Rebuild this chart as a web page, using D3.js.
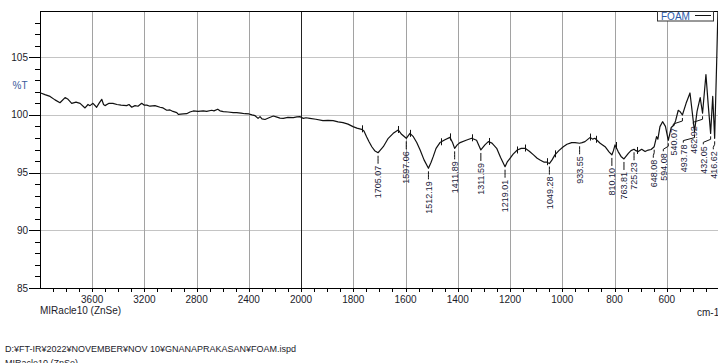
<!DOCTYPE html>
<html>
<head>
<meta charset="utf-8">
<script src="https://cdn.jsdelivr.net/npm/d3@7"></script>
<style>
  html, body { margin: 0; padding: 0; background: #fff; }
  svg { display: block; font-family: "Liberation Sans", Arial, sans-serif; }
</style>
</head>
<body>
<script>
// ---------- DATA ----------
const wavenumbers = [
  4000, 3962, 3923, 3885, 3847, 3808, 3785, 3757, 3724, 3693, 3655, 3632, 3617, 3594, 3566, 3548,
  3527, 3513, 3502, 3471, 3441, 3410, 3379, 3336, 3318, 3297, 3272, 3249, 3221, 3203, 3182, 3157,
  3119, 3080, 3057, 3029, 3004, 2981, 2952, 2940, 2902, 2876, 2851, 2825, 2789, 2749, 2723, 2684,
  2667, 2638, 2621, 2595, 2559, 2519, 2493, 2460, 2429, 2398, 2375, 2352, 2329, 2314, 2299, 2276,
  2245, 2212, 2184, 2161, 2136, 2100, 2059, 2031, 2008,
  2000, 1991, 1981, 1966, 1943, 1916, 1897, 1877, 1858, 1839, 1820, 1801, 1786, 1768, 1759, 1749,
  1740, 1729, 1718, 1705.07, 1698, 1685, 1666, 1647, 1628, 1615, 1597.06, 1583, 1570, 1557, 1544,
  1529, 1512.19, 1502, 1494, 1483, 1468, 1449, 1430, 1420, 1411.89, 1402, 1391, 1368, 1347, 1328,
  1311.59, 1296, 1283, 1269, 1251, 1236, 1219.01, 1211, 1200, 1188, 1172, 1157, 1142, 1126, 1110,
  1096, 1085, 1069, 1059, 1049.28, 1039, 1028, 1013, 996, 982, 964, 951, 933.55, 924, 913, 893,
  884, 875, 855, 836, 821, 810.10, 804, 798, 786, 775, 763.81, 747, 737, 725.23, 718, 709, 696,
  683, 671, 660, 648.08, 639, 634, 626, 616, 605, 594.08, 583, 572, 566, 556, 549, 540.07, 526,
  511, 493.78, 484, 472, 462.92, 450, 441, 432.05, 424, 416.62, 409, 402
];
const transmittance = [
  101.92, 101.75, 101.6, 101.3, 101.05, 101.5, 101.35, 101.0, 101.1, 101.0, 100.6, 100.9, 100.8, 101.0, 100.66, 101.0,
  101.35, 100.9, 100.8, 101.0, 101.0, 100.9, 100.85, 100.8, 100.9, 100.66, 100.8, 100.75, 101.0, 100.85, 100.85, 100.75,
  100.8, 100.66, 100.6, 100.4, 100.43, 100.3, 100.2, 100.05, 100.08, 100.1, 100.25, 100.34, 100.3, 100.34, 100.3, 100.4,
  100.35, 100.49, 100.35, 100.28, 100.25, 100.2, 100.2, 100.15, 100.1, 100.08, 100.0, 99.93, 99.7, 99.85, 99.65, 99.6,
  99.75, 99.9, 99.8, 99.72, 99.7, 99.78, 99.76, 99.82, 99.85,
  99.8, 99.7, 99.75, 99.7, 99.62, 99.5, 99.52, 99.5, 99.4, 99.33, 99.2, 98.98, 98.85, 98.75, 98.6, 98.11,
  97.7, 97.24, 96.9, 96.72, 96.9, 97.24, 97.97, 98.4, 98.69, 98.32, 97.97, 98.4, 98.11, 97.6, 96.96,
  96.1, 95.37, 95.9, 96.38, 97.1, 97.6, 97.85, 98.05, 97.6, 97.1, 97.4, 97.6, 97.8, 97.97, 97.8,
  96.96, 97.4, 97.68, 97.55, 97.1, 96.3, 95.51, 95.9, 96.24, 96.6, 96.96, 97.1, 97.1, 96.85, 96.53,
  96.24, 96.09, 95.9, 95.9, 95.78, 96.1, 96.53, 96.9, 97.24, 97.45, 97.6, 97.6, 97.54, 97.6, 97.68, 98.05,
  97.9, 97.97, 97.54, 97.24, 96.8, 96.53, 96.9, 97.4, 96.82, 96.4, 96.18, 96.67, 96.9, 97.02, 96.9, 96.82, 97.02,
  96.82, 96.95, 97.0, 97.24, 98.11, 97.9, 98.98, 99.41, 99.0, 97.8, 98.9, 99.12, 99.5, 100.4, 100.28, 99.99, 101.0,
  101.9, 98.55, 100.3, 101.5, 100.14, 103.5, 100.8, 98.4, 101.6, 97.97, 104.5, 111
];
const peakWavenumbers = [1705.07, 1597.06, 1512.19, 1411.89, 1311.59, 1219.01, 1049.28, 933.55,
  810.10, 763.81, 725.23, 648.08, 594.08, 540.07, 493.78, 462.92, 432.05, 416.62];
const regionMarks = [1768, 1628, 1581, 1466, 1430, 1347, 1280, 1174, 1141, 1059, 1026, 892, 869, 796, 715];
const xMajorTicks = [3600, 3200, 2800, 2400, 2000, 1800, 1600, 1400, 1200, 1000, 800, 600];
const yMajorTicks = [85, 90, 95, 100, 105];
const seriesName = "FOAM";
const yLabel = "%T";
const xUnit = "cm-1";
const accessory = "MIRacle10 (ZnSe)";
const filePath = "D:¥FT-IR¥2022¥NOVEMBER¥NOV 10¥GNANAPRAKASAN¥FOAM.ispd";

// ---------- LAYOUT ----------
const W = 718, H = 363;
const pL = 40, pR = 719, pT = 11, pB = 288;
const x = d3.scaleLinear().domain([4000, 2000, 400]).range([pL, 301, pR]);
const y = d3.scaleLinear().domain([85, 109]).range([pB, pT]);
const tickColor = "#1b1b2a";

const svg = d3.select("body").append("svg").attr("width", W).attr("height", H);
svg.append("rect").attr("width", W).attr("height", H).attr("fill", "#fff");

// gridlines
svg.append("g").selectAll("line").data(yMajorTicks.filter(d => d > 85)).join("line")
  .attr("x1", pL).attr("x2", W).attr("y1", d => Math.round(y(d)) + 0.5).attr("y2", d => Math.round(y(d)) + 0.5)
  .attr("stroke", "#c4c4c4").attr("stroke-width", 1);
svg.append("g").selectAll("line").data(xMajorTicks).join("line")
  .attr("x1", d => Math.round(x(d)) + 0.5).attr("x2", d => Math.round(x(d)) + 0.5)
  .attr("y1", pT).attr("y2", pB)
  .attr("stroke", d => d === 2000 ? "#222" : "#a2a2a2").attr("stroke-width", 1);

// axes frame
svg.append("line").attr("x1", pL + 0.5).attr("x2", pL + 0.5).attr("y1", pT).attr("y2", pB + 0.5)
  .attr("stroke", "#000");
svg.append("line").attr("x1", pL).attr("x2", W).attr("y1", pB + 0.5).attr("y2", pB + 0.5)
  .attr("stroke", "#000");
svg.append("line").attr("x1", pL).attr("x2", W).attr("y1", pT + 0.5).attr("y2", pT + 0.5)
  .attr("stroke", "#000");

// y ticks
const yMinor = d3.range(86, 109).filter(d => d % 5 !== 0);
svg.append("g").selectAll("line").data(yMinor).join("line")
  .attr("x1", pL - 5).attr("x2", pL).attr("y1", d => Math.round(y(d)) + 0.5).attr("y2", d => Math.round(y(d)) + 0.5)
  .attr("stroke", "#000");
svg.append("g").selectAll("line").data(yMajorTicks).join("line")
  .attr("x1", pL - 11).attr("x2", pL).attr("y1", d => Math.round(y(d)) + 0.5).attr("y2", d => Math.round(y(d)) + 0.5)
  .attr("stroke", "#000");
svg.append("g").selectAll("text").data(yMajorTicks).join("text")
  .attr("x", pL - 12).attr("y", d => y(d) + 3.5).attr("text-anchor", "end")
  .attr("font-size", 10).attr("fill", tickColor).text(d => d);
svg.append("text").attr("x", 20).attr("y", 89).attr("text-anchor", "middle")
  .attr("font-size", 10).attr("fill", "#3a5a9a").text(yLabel);

// x ticks
const xMinor = d3.range(3900, 2000, -100).filter(d => d % 400 !== 0)
  .concat(d3.range(1950, 400, -50).filter(d => d % 200 !== 0));
svg.append("g").selectAll("line").data(xMinor).join("line")
  .attr("x1", d => Math.round(x(d)) + 0.5).attr("x2", d => Math.round(x(d)) + 0.5)
  .attr("y1", pB).attr("y2", pB + 4).attr("stroke", "#000");
svg.append("g").selectAll("line").data(xMajorTicks).join("line")
  .attr("x1", d => Math.round(x(d)) + 0.5).attr("x2", d => Math.round(x(d)) + 0.5)
  .attr("y1", pB).attr("y2", pB + 4).attr("stroke", "#000");
svg.append("g").selectAll("text").data(xMajorTicks).join("text")
  .attr("x", d => x(d)).attr("y", 303).attr("text-anchor", "middle")
  .attr("font-size", 10).attr("fill", tickColor).text(d => d);
svg.append("text").attr("x", 697).attr("y", 316).attr("font-size", 10).attr("fill", tickColor).text(xUnit);
svg.append("text").attr("x", 40).attr("y", 314).attr("font-size", 10).attr("fill", tickColor).text(accessory);

// footer
svg.append("text").attr("x", 5).attr("y", 352).attr("font-size", 9).attr("fill", tickColor).text(filePath);
svg.append("text").attr("x", 5).attr("y", 366).attr("font-size", 9).attr("fill", tickColor).text(accessory);

// spectrum
const pts = wavenumbers.map((w, i) => [w, transmittance[i]]);
svg.append("clipPath").attr("id", "clip").append("rect")
  .attr("x", pL).attr("y", pT).attr("width", W - pL).attr("height", pB - pT);
svg.append("path").datum(pts).attr("clip-path", "url(#clip)")
  .attr("d", d3.line().x(d => x(d[0])).y(d => y(d[1])))
  .attr("fill", "none").attr("stroke", "#111").attr("stroke-width", 1.2).attr("stroke-linejoin", "round");

function tAt(w) {
  for (let i = 0; i < wavenumbers.length - 1; i++) {
    const a = wavenumbers[i], b = wavenumbers[i + 1];
    if (w <= a && w >= b) {
      const f = (a - w) / (a - b);
      return transmittance[i] + f * (transmittance[i + 1] - transmittance[i]);
    }
  }
  return transmittance[transmittance.length - 1];
}

// region marks
svg.append("g").selectAll("line").data(regionMarks).join("line")
  .attr("x1", d => Math.round(x(d)) + 0.5).attr("x2", d => Math.round(x(d)) + 0.5)
  .attr("y1", d => y(tAt(d)) - 4).attr("y2", d => y(tAt(d)) + 3)
  .attr("stroke", "#111").attr("stroke-width", 1);

// peak labels with simple collision avoidance (right to left)
const peaks = peakWavenumbers.map(w => ({ w, px: x(w), py: y(tAt(w)) }));
let prev = 713.3 + 10;
[...peaks].sort((a, b) => b.px - a.px).forEach(p => {
  p.lx = Math.min(p.px, prev - 10);
  prev = p.lx;
  p.ty = p.py + 13;
});
const pg = svg.append("g");
peaks.forEach(p => {
  pg.append("path")
    .attr("d", `M${p.px},${p.py + 3}L${p.px},${p.py + 6}L${p.lx},${p.ty - 4}L${p.lx},${p.ty - 2}`)
    .attr("fill", "none").attr("stroke", "#111").attr("stroke-width", 1);
  pg.append("text")
    .attr("transform", `translate(${p.lx + 3.2},${p.ty}) rotate(-90)`)
    .attr("text-anchor", "end").attr("font-size", 9).attr("fill", "#1b1b3a")
    .text(p.w.toFixed(2));
});

// legend
const lg = svg.append("g");
lg.append("rect").attr("x", 657.5).attr("y", 11.5).attr("width", 56).attr("height", 9.5)
  .attr("fill", "#fff").attr("stroke", "#333");
lg.append("text").attr("x", 661).attr("y", 20).attr("font-size", 10).attr("fill", "#2a5aa8").text(seriesName);
lg.append("line").attr("x1", 695).attr("x2", 711).attr("y1", 15.5).attr("y2", 15.5).attr("stroke", "#111");
</script>
</body>
</html>
